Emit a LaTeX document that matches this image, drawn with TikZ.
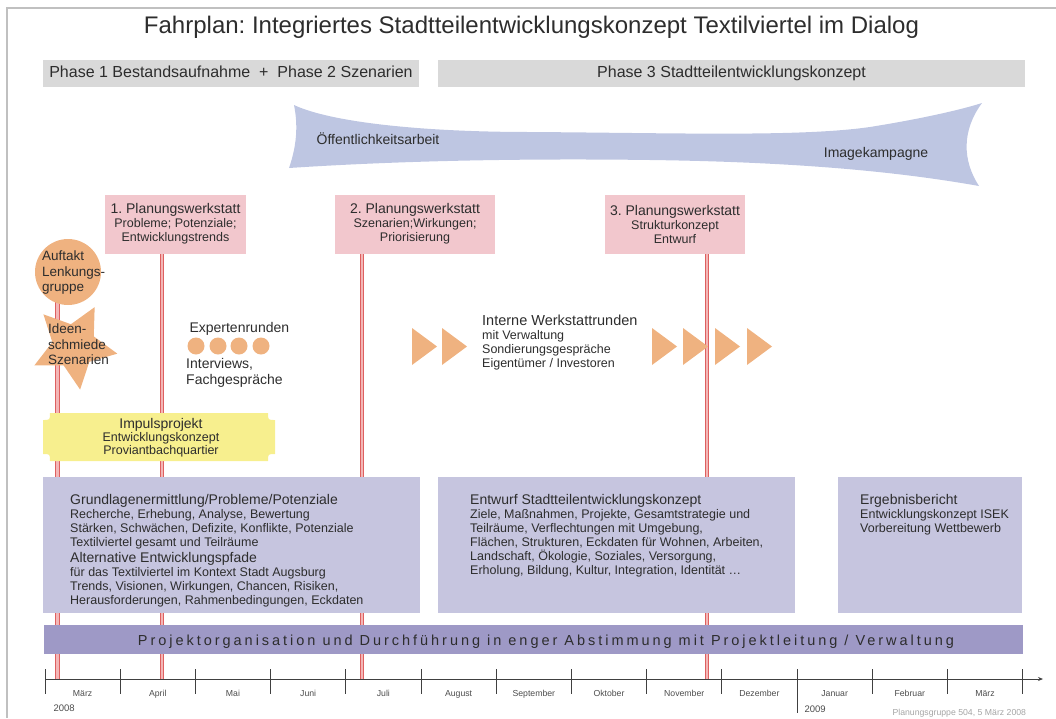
\documentclass[tikz,border=0pt]{standalone}
\usepackage{fontspec}
\setmainfont{Liberation Sans}
\usepackage{tikz}
\usetikzlibrary{shapes.geometric,arrows.meta,backgrounds}
\frenchspacing
\definecolor{rahmengrau}{RGB}{192,192,192}
\definecolor{phasegrau}{RGB}{217,217,217}
\definecolor{bandblau}{RGB}{190,198,226}
\definecolor{werkrosa}{RGB}{242,199,205}
\definecolor{linienrot}{RGB}{222,96,96}
\definecolor{linienrosa}{RGB}{243,182,182}
\definecolor{auftaktorange}{RGB}{239,178,128}
\definecolor{impulsgelb}{RGB}{247,239,142}
\definecolor{blocklila}{RGB}{198,197,223}
\definecolor{balkenlila}{RGB}{158,153,198}
\definecolor{textgrau}{RGB}{45,45,45}
\definecolor{fussgrau}{RGB}{165,165,165}
\newcommand{\fTitel}{\fontsize{24}{27}\selectfont}
\newcommand{\fPhase}{\fontsize{16}{19}\selectfont}
\newcommand{\fKopf}{\fontsize{14}{16}\selectfont}
\newcommand{\fText}{\fontsize{12.5}{14}\selectfont}
\newcommand{\fRund}{\fontsize{13.5}{15.5}\selectfont}
\newcommand{\fMonat}{\fontsize{8.7}{10}\selectfont}
\newcommand{\fJahr}{\fontsize{9.5}{11}\selectfont}
\newcommand{\fBalken}{\fontsize{14.5}{17}\selectfont\addfontfeature{LetterSpace=20.5}}
\tikzset{
RAHMEN/.style={draw=rahmengrau,line width=2.5pt},
PHASE/.style={fill=phasegrau,minimum height=27pt,inner sep=0pt,text height=11.5pt,text depth=3.4pt,font=\fPhase,text=textgrau},
BAND/.style={fill=bandblau},
WERKSTATT/.style={fill=werkrosa,minimum height=59pt,inner sep=0pt,align=center,font=\fText,text=textgrau},
LINIE/.style={draw=linienrot,double=linienrosa,line width=0.9pt,double distance=2.6pt},
AUFTAKT/.style={circle,fill=auftaktorange,minimum size=66pt,inner sep=0pt},
STERN/.style={star,star points=5,star point ratio=2.0,minimum size=88pt,shape border rotate=-28,fill=auftaktorange,inner sep=0pt},
PUNKT/.style={fill=auftaktorange},
IMPULS/.style={fill=impulsgelb},
BLOCK/.style={fill=blocklila,minimum height=136pt,inner sep=0pt},
BLOCKTEXT/.style={anchor=north west,align=left,inner sep=0pt,font=\fText,text=textgrau},
FREITEXT/.style={anchor=north west,align=left,inner sep=0pt,font=\fRund,text=textgrau},
BALKEN/.style={fill=balkenlila,minimum height=29pt,minimum width=979pt,inner sep=0pt},
TICK/.style={draw=black!75,line width=0.8pt},
MONAT/.style={anchor=base,font=\fMonat,text=black!70},
}
\begin{document}
\begin{tikzpicture}[x=1pt,y=-1pt]
	\useasboundingbox (0,0) rectangle (1056,718);
	\path[RAHMEN] (1056,8) -- (7,8) -- (7,718);
	\node[anchor=base,font=\fTitel,text=textgrau] (titel) at (531.5,33) {Fahrplan: Integriertes Stadtteilentwicklungskonzept Textilviertel im Dialog};
	\node[PHASE,minimum width=376pt] (phase12) at (231,73.5) {Phase 1 Bestandsaufnahme~~+~~Phase 2 Szenarien};
	\node[PHASE,minimum width=587pt] (phase3) at (731.5,73.5) {Phase 3 Stadtteilentwicklungskonzept};
	\path[BAND] (294,105) .. controls (330,122) and (420,132) .. (530,132) .. controls (680,133) and (800,137) .. (870,127) .. controls (920,119) and (960,110) .. (982,103) .. controls (962,130) and (962,160) .. (979,186) .. controls (900,172) and (800,162) .. (650,160) .. controls (500,158) and (380,162) .. (289,168) .. controls (297,145) and (298,125) .. (294,105) -- cycle;
	\node[anchor=base,font=\fKopf,text=textgrau] (oeff) at (378,144) {Öffentlichkeitsarbeit};
	\node[anchor=base,font=\fKopf,text=textgrau] (image) at (876,157) {Imagekampagne};
	\node[WERKSTATT,minimum width=141pt] (pw1) at (175.5,224) {{\fKopf 1. Planungswerkstatt}\\Probleme; Potenziale;\\Entwicklungstrends};
	\node[WERKSTATT,minimum width=160pt] (pw2) at (415,224) {{\fKopf 2. Planungswerkstatt}\\Szenarien;Wirkungen;\\Priorisierung};
	\node[WERKSTATT,minimum width=140pt] (pw3) at (675,224) {{\fKopf 3. Planungswerkstatt}\\Strukturkonzept\\Entwurf};
	\node[AUFTAKT] (auftakt) at (68,272) {};
	\node[FREITEXT] (auftakttext) at (42,251) {Auftakt\\Lenkungs-\\gruppe};
	\node[STERN] (ideen) at (74,346) {};
	\node[FREITEXT] (ideentext) at (48,324) {Ideen-\\schmiede\\Szenarien};
	\node[anchor=base west,font=\fKopf,text=textgrau] (experten) at (186,332) {Expertenrunden};
	\foreach \x in {196,218,239,261}
		\path[PUNKT] (\x,346) circle (8.5pt);
	\node[FREITEXT,font=\fontsize{14}{16}\selectfont] (interviews) at (186,358) {Interviews,\\Fachgespräche};
	\foreach \x in {412,442,652,683,715,747}
		\path[PUNKT] (\x,328) -- ++(25,18.5) -- ++(-25,18.5) -- cycle;
	\node[BLOCKTEXT] (runden) at (482,314.5) {{\fontsize{14.5}{16}\selectfont Interne Werkstattrunden}\\mit Verwaltung\\Sondierungsgespräche\\Eigentümer / Investoren};
	\path[IMPULS] (50,413) -- (268,413) .. controls (268,420) .. (275,420) -- (275,454) .. controls (268,454) .. (268,461) -- (50,461) .. controls (50,454) .. (43,454) -- (43,420) .. controls (50,420) .. (50,413) -- cycle;
	\node[anchor=north,align=center,inner sep=0pt,font=\fontsize{12.5}{13}\selectfont,text=textgrau] (impuls) at (161,418) {{\fKopf Impulsprojekt}\\Entwicklungskonzept\\Proviantbachquartier};
	\node[BLOCK,minimum width=377pt] (grundlagen) at (231.5,545) {};
	\node[BLOCK,minimum width=357pt] (entwurf) at (616.5,545) {};
	\node[BLOCK,minimum width=184pt] (ergebnis) at (930,545) {};
	\node[BLOCKTEXT] (grundlagentext) at (70,494) {{\fKopf Grundlagenermittlung/Probleme/Potenziale}\\Recherche, Erhebung, Analyse, Bewertung\\Stärken, Schwächen, Defizite, Konflikte, Potenziale\\Textilviertel gesamt und Teilräume\\[2.5pt]{\fKopf Alternative Entwicklungspfade}\\für das Textilviertel im Kontext Stadt Augsburg\\Trends, Visionen, Wirkungen, Chancen, Risiken,\\Herausforderungen, Rahmenbedingungen, Eckdaten};
	\node[BLOCKTEXT] (entwurftext) at (470,494) {{\fKopf Entwurf Stadtteilentwicklungskonzept}\\Ziele, Maßnahmen, Projekte, Gesamtstrategie und\\Teilräume, Verflechtungen mit Umgebung,\\Flächen, Strukturen, Eckdaten für Wohnen, Arbeiten,\\Landschaft, Ökologie, Soziales, Versorgung,\\Erholung, Bildung, Kultur, Integration, Identität \dots};
	\node[BLOCKTEXT] (ergebnistext) at (860,494) {{\fKopf Ergebnisbericht}\\Entwicklungskonzept ISEK\\Vorbereitung Wettbewerb};
	\node[BALKEN] (balken) at (533.5,639.5) {};
	\node[anchor=base,font=\fBalken,text=textgrau] (balkentext) at (546,645.5) {Projektorganisation und Durchführung in enger Abstimmung mit Projektleitung / Verwaltung};
	\coordinate (start) at (45,679);
	\coordinate (ende) at (1043,679);
	\draw[TICK,-{Stealth[length=5pt,width=4pt]}] (start) -- (ende);
	\foreach \i in {0,...,13}
		\draw[TICK] ({45+75.2*\i},669) -- ({45+75.2*\i},694);
	\draw[TICK] (797,694) -- (797,713);
	\foreach \m [count=\i] in {März,April,Mai,Juni,Juli,August,September,Oktober,November,Dezember,Januar,Februar,März}
		\node[MONAT] (monat\i) at ({45+75.2*(\i-0.5)},696) {\m};
	\node[anchor=base west,font=\fJahr,text=black!70] (jahr1) at (50,711) {2008};
	\node[anchor=base west,font=\fJahr,text=black!70] (jahr2) at (801,712) {2009};
	\node[anchor=base west,font=\fMonat,text=fussgrau] (fuss) at (889,715.5) {Planungsgruppe 504, 5 März 2008};
	\coordinate (m1) at (57.5,679);
	\coordinate (m2) at (162,679);
	\coordinate (m3) at (362,679);
	\coordinate (m4) at (707,679);
	\begin{scope}[on background layer]
		\draw[LINIE] (auftakt.center -| m1) -- (m1);
		\draw[LINIE] (pw1.south -| m2) -- (m2);
		\draw[LINIE] (pw2.south -| m3) -- (m3);
		\draw[LINIE] (pw3.south -| m4) -- (m4);
	\end{scope}
\end{tikzpicture}
\end{document}
